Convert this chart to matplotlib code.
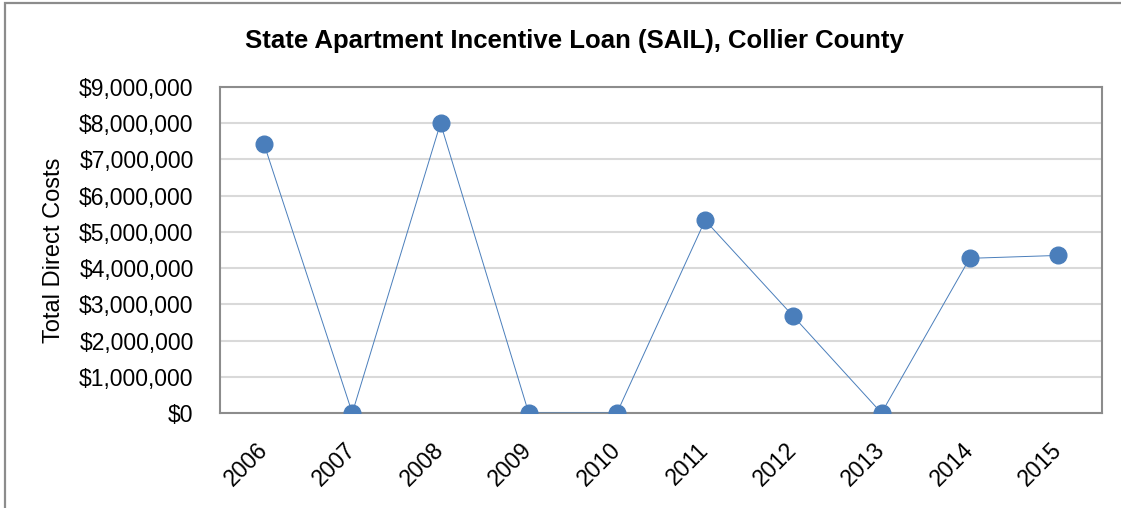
import matplotlib
matplotlib.use("Agg")
import matplotlib.pyplot as plt
from matplotlib.patches import Rectangle
from matplotlib.ticker import FuncFormatter

plt.rcParams['font.family'] = ['Liberation Sans', 'DejaVu Sans']

years = ['2006', '2007', '2008', '2009', '2010', '2011', '2012', '2013', '2014', '2015']
direct_costs = [7420000, 0, 8000000, 0, 0, 5320000, 2670000, 0, 4270000, 4350000]

W, H = 1121, 508
fig = plt.figure(figsize=(W / 100, H / 100), dpi=100)

# outer chart border (cut off on the right/bottom in the original)
fig.patches.append(Rectangle((4.5 / W, -0.1), 1.2, (H - 3.5) / H + 0.1,
                             transform=fig.transFigure, fill=False,
                             edgecolor='#8c8c8c', linewidth=1.6))

ax = fig.add_axes([220 / W, 1 - 413 / H, (1102 - 220) / W, (413 - 87) / H])
ax.plot(range(len(years)), direct_costs, color='#4a7ebb', linewidth=0.7,
        marker='o', markersize=12, markerfacecolor='#4a7ebb',
        markeredgecolor='#4a7ebb', zorder=3)

ax.set_xlim(-0.5, len(years) - 0.5)
ax.set_ylim(0, 9000000)
ax.set_yticks(range(0, 9000001, 1000000))
ax.yaxis.set_major_formatter(FuncFormatter(lambda v, p: '${:,.0f}'.format(v)))
ax.set_xticks(range(len(years)))
ax.set_xticklabels(years, rotation=45, ha='right', va='center', rotation_mode='anchor')

ax.grid(axis='y', color='#d9d9d9', linewidth=1.5)
ax.set_axisbelow(True)
for s in ax.spines.values():
    s.set_color('#8c8c8c')
    s.set_linewidth(1.5)
ax.tick_params(axis='both', length=0, labelsize=16.5, colors='black')
ax.tick_params(axis='y', pad=19)
ax.tick_params(axis='x', pad=24)

ax.set_ylabel('Total Direct Costs', fontsize=17, labelpad=10)
fig.text(574 / W, 1 - 41 / H, 'State Apartment Incentive Loan (SAIL), Collier County',
         ha='center', va='center', fontsize=18.5, fontweight='bold')

fig.savefig('out.png', dpi=100)
